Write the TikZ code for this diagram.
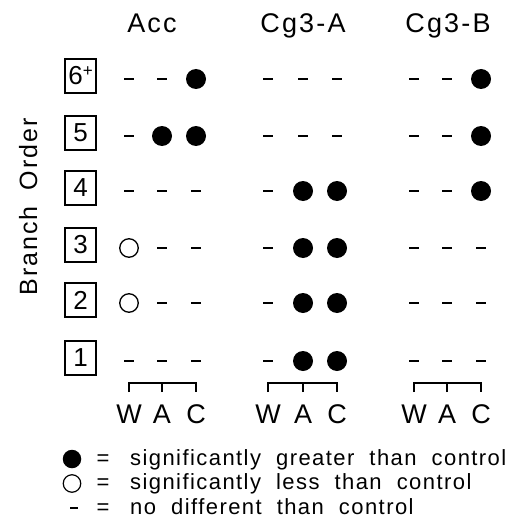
\documentclass[tikz,border=0pt]{standalone}
\usepackage{fontspec}
\setmainfont{Liberation Sans}[LetterSpace=8,WordSpace=1.8]
\newfontfamily\keyfont{Liberation Sans}[LetterSpace=6.5,WordSpace=2]

\begin{document}
\begin{tikzpicture}[x=1pt, y=-1pt]
  \tikzstyle{big}=[font=\fontsize{27}{32}\selectfont, inner sep=0pt, anchor=base]
  \tikzstyle{small}=[font=\keyfont\fontsize{22}{26}\selectfont, inner sep=0pt, anchor=base west]
  \tikzstyle{order}=[draw, line width=1.3pt, minimum width=31pt, minimum height=34pt, inner sep=0pt, font=\fontsize{26}{30}\selectfont]
  \tikzstyle{greater}=[circle, fill=black, minimum size=20pt, inner sep=0pt]
  \tikzstyle{less}=[circle, draw, line width=1.3pt, minimum size=18.5pt, inner sep=0pt]
  \tikzstyle{nodiff}=[fill=black, minimum width=10pt, minimum height=2.2pt, inner sep=0pt]

  \useasboundingbox (0,0) rectangle (517,532);

  % column headers
  \node[big] (acc) at (152,33) {Acc};
  \node[big] (cga) at (303,33) {Cg3-A};
  \node[big] (cgb) at (448,33) {Cg3-B};
  \node[big, rotate=90, font=\fontsize{25}{30}\selectfont] (bo) at (37,207) {Branch Order};

  % branch order boxes and marks
  \foreach \r/\y/\t/\marks in {
      6/79/{6\raisebox{8pt}{\fontsize{17}{17}\selectfont +}}/{nodiff,nodiff,greater, nodiff,nodiff,nodiff, nodiff,nodiff,greater},
      5/136/5/{nodiff,greater,greater, nodiff,nodiff,nodiff, nodiff,nodiff,greater},
      4/191/4/{nodiff,nodiff,nodiff, nodiff,greater,greater, nodiff,nodiff,greater},
      3/248/3/{less,nodiff,nodiff, nodiff,greater,greater, nodiff,nodiff,nodiff},
      2/303/2/{less,nodiff,nodiff, nodiff,greater,greater, nodiff,nodiff,nodiff},
      1/361/1/{nodiff,nodiff,nodiff, nodiff,greater,greater, nodiff,nodiff,nodiff}} {
    \node[order] (b\r) at (80.5,\y-3) {\t};
    \foreach \m [count=\c] in \marks {
      \pgfmathsetmacro\xx{{129,162,196,268,303,337,414,447,481}[\c-1]}
      \node[\m] (m-\r-\c) at (\xx,\y) {};
    }
  }

  % W A C brackets
  \foreach \g/\w/\a/\cc in {acc/129/162/196, cga/268/303/337, cgb/414/447/481} {
    \coordinate (\g-w) at (\w,392);
    \coordinate (\g-a) at (\a,392);
    \coordinate (\g-c) at (\cc,392);
    \draw[line width=1.4pt] (\g-w) -- ++(0,-9) -| (\g-c);
    \draw[line width=1.4pt] (\g-a) -- ++(0,-9);
    \node[big] (\g-lw) at (\w,423) {W};
    \node[big] (\g-la) at (\a,423) {A};
    \node[big] (\g-lc) at (\cc,423) {C};
  }

  % key
  \node[greater, minimum size=18.5pt] (k1) at (72,459) {};
  \node[less, minimum size=17.5pt, line width=1.2pt] (k2) at (72,483.5) {};
  \node[nodiff, minimum width=8pt] (k3) at (74,508) {};
  \node[small, anchor=base] (e1) at (103,465) {=};
  \node[small, anchor=base] (e2) at (103,489.5) {=};
  \node[small, anchor=base] (e3) at (103,514) {=};
  \node[small] (t1) at (130,465) {significantly greater than control};
  \node[small] (t2) at (130,489.5) {significantly less than control};
  \node[small] (t3) at (130,514) {no different than control};
\end{tikzpicture}
\end{document}
